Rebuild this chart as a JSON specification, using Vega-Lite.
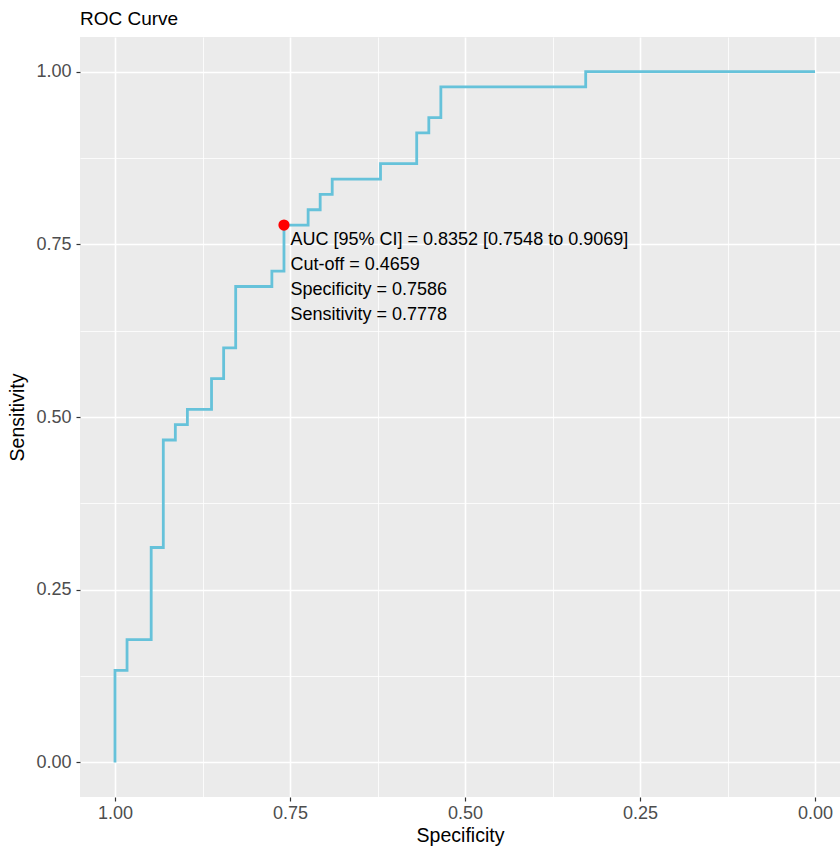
{
  "$schema": "https://vega.github.io/schema/vega-lite/v6.json",
  "autosize": {"type": "none"},
  "padding": {"left": 80, "top": 37, "right": 0, "bottom": 50},
  "width": 760,
  "height": 760,
  "background": "white",
  "config": {
    "view": {"fill": "#EBEBEB", "stroke": null},
    "font": "Liberation Sans"
  },
  "title": {
    "text": "ROC Curve",
    "anchor": "start",
    "frame": "group",
    "fontSize": 19,
    "fontWeight": "normal",
    "color": "black",
    "font": "Liberation Sans",
    "offset": 8
  },
  "datasets": {
    "roc": [
      {"i": 1, "specificity": 1.0, "sensitivity": 0.0},
      {"i": 2, "specificity": 1.0, "sensitivity": 0.1333},
      {"i": 3, "specificity": 0.9828, "sensitivity": 0.1333},
      {"i": 4, "specificity": 0.9828, "sensitivity": 0.1778},
      {"i": 5, "specificity": 0.9483, "sensitivity": 0.1778},
      {"i": 6, "specificity": 0.9483, "sensitivity": 0.3111},
      {"i": 7, "specificity": 0.931, "sensitivity": 0.3111},
      {"i": 8, "specificity": 0.931, "sensitivity": 0.4667},
      {"i": 9, "specificity": 0.9138, "sensitivity": 0.4667},
      {"i": 10, "specificity": 0.9138, "sensitivity": 0.4889},
      {"i": 11, "specificity": 0.8966, "sensitivity": 0.4889},
      {"i": 12, "specificity": 0.8966, "sensitivity": 0.5111},
      {"i": 13, "specificity": 0.8621, "sensitivity": 0.5111},
      {"i": 14, "specificity": 0.8621, "sensitivity": 0.5556},
      {"i": 15, "specificity": 0.8448, "sensitivity": 0.5556},
      {"i": 16, "specificity": 0.8448, "sensitivity": 0.6},
      {"i": 17, "specificity": 0.8276, "sensitivity": 0.6},
      {"i": 18, "specificity": 0.8276, "sensitivity": 0.6889},
      {"i": 19, "specificity": 0.7759, "sensitivity": 0.6889},
      {"i": 20, "specificity": 0.7759, "sensitivity": 0.7111},
      {"i": 21, "specificity": 0.7586, "sensitivity": 0.7111},
      {"i": 22, "specificity": 0.7586, "sensitivity": 0.7778},
      {"i": 23, "specificity": 0.7241, "sensitivity": 0.7778},
      {"i": 24, "specificity": 0.7241, "sensitivity": 0.8},
      {"i": 25, "specificity": 0.7069, "sensitivity": 0.8},
      {"i": 26, "specificity": 0.7069, "sensitivity": 0.8222},
      {"i": 27, "specificity": 0.6897, "sensitivity": 0.8222},
      {"i": 28, "specificity": 0.6897, "sensitivity": 0.8444},
      {"i": 29, "specificity": 0.6207, "sensitivity": 0.8444},
      {"i": 30, "specificity": 0.6207, "sensitivity": 0.8667},
      {"i": 31, "specificity": 0.569, "sensitivity": 0.8667},
      {"i": 32, "specificity": 0.569, "sensitivity": 0.9111},
      {"i": 33, "specificity": 0.5517, "sensitivity": 0.9111},
      {"i": 34, "specificity": 0.5517, "sensitivity": 0.9333},
      {"i": 35, "specificity": 0.5345, "sensitivity": 0.9333},
      {"i": 36, "specificity": 0.5345, "sensitivity": 0.9778},
      {"i": 37, "specificity": 0.3276, "sensitivity": 0.9778},
      {"i": 38, "specificity": 0.3276, "sensitivity": 1.0},
      {"i": 39, "specificity": 0.0, "sensitivity": 1.0}
    ],
    "best": [
      {"specificity": 0.7586, "sensitivity": 0.7778, "label": "AUC [95% CI] = 0.8352 [0.7548 to 0.9069]\nCut-off = 0.4659\nSpecificity = 0.7586\nSensitivity = 0.7778"}
    ]
  },
  "layer": [
    {
      "data": {"name": "roc"},
      "mark": {"type": "line", "color": "#66C2DA", "strokeWidth": 2.8, "strokeJoin": "miter", "strokeCap": "butt"},
      "encoding": {
        "order": {"field": "i", "type": "quantitative"},
        "x": {
          "field": "specificity", "type": "quantitative",
          "scale": {"domain": [-0.0357, 1.05], "reverse": true, "nice": false, "zero": false},
          "axis": {
            "orient": "bottom",
            "values": [0, 0.25, 0.5, 0.75, 1],
            "format": ".2f",
            "title": "Specificity",
            "grid": true, "gridColor": "white", "gridWidth": 1.6,
            "domain": false,
            "ticks": true, "tickColor": "#333333", "tickSize": 4, "tickWidth": 1.2,
            "labelColor": "#4D4D4D", "labelFontSize": 18, "labelFont": "Liberation Sans", "labelPadding": 3,
            "titleColor": "black", "titleFontSize": 19.5, "titleFontWeight": "normal", "titleFont": "Liberation Sans", "titlePadding": 4
          }
        },
        "y": {
          "field": "sensitivity", "type": "quantitative",
          "scale": {"domain": [-0.05, 1.05], "nice": false, "zero": false},
          "axis": {
            "orient": "left",
            "values": [0, 0.25, 0.5, 0.75, 1],
            "format": ".2f",
            "title": "Sensitivity",
            "grid": true, "gridColor": "white", "gridWidth": 1.6,
            "domain": false,
            "ticks": true, "tickColor": "#333333", "tickSize": 4, "tickWidth": 1.2,
            "labelColor": "#4D4D4D", "labelFontSize": 18, "labelFont": "Liberation Sans", "labelPadding": 5,
            "titleColor": "black", "titleFontSize": 19.5, "titleFontWeight": "normal", "titleFont": "Liberation Sans", "titlePadding": 8
          }
        }
      }
    },
    {
      "data": {"name": "best"},
      "mark": {"type": "point", "filled": true, "color": "#FF0000", "size": 125, "opacity": 1, "shape": "circle"},
      "encoding": {
        "x": {
          "field": "specificity", "type": "quantitative",
          "axis": {"orient": "top", "values": [0.125, 0.375, 0.625, 0.875], "grid": true, "gridColor": "white", "gridWidth": 0.8, "labels": false, "ticks": false, "domain": false, "title": null}
        },
        "y": {
          "field": "sensitivity", "type": "quantitative",
          "axis": {"orient": "right", "values": [0.125, 0.375, 0.625, 0.875], "grid": true, "gridColor": "white", "gridWidth": 0.8, "labels": false, "ticks": false, "domain": false, "title": null}
        }
      }
    },
    {
      "data": {"name": "best"},
      "mark": {"type": "text", "align": "left", "baseline": "alphabetic", "dx": 6.5, "dy": 19.5, "fontSize": 18, "font": "Liberation Sans", "color": "black", "lineBreak": "\n", "lineHeight": 25.3},
      "encoding": {
        "x": {"field": "specificity", "type": "quantitative", "axis": null},
        "y": {"field": "sensitivity", "type": "quantitative", "axis": null},
        "text": {"field": "label", "type": "nominal"}
      }
    }
  ],
  "resolve": {"axis": {"x": "independent", "y": "independent"}}
}
